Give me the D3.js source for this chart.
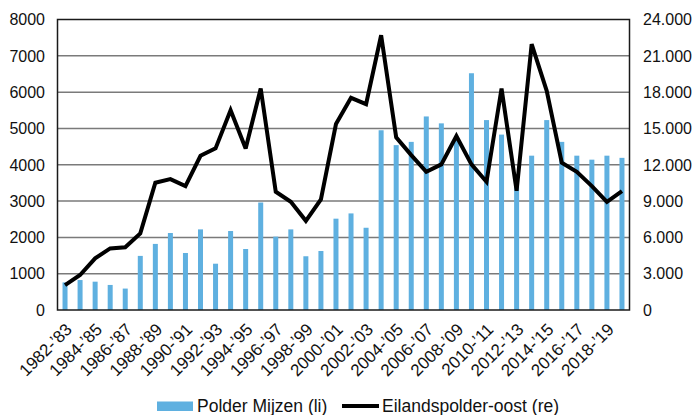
<!DOCTYPE html>
<html>
<head>
<meta charset="utf-8">
<script src="https://cdn.jsdelivr.net/npm/d3@7/dist/d3.min.js"></script>
<style>
  html, body { margin: 0; padding: 0; background: #fff; }
  svg { display: block; font-family: "Liberation Sans", Arial, Helvetica, sans-serif; }
</style>
</head>
<body>
<svg id="chart" width="698" height="415"></svg>
<script>
const categories = [
  "1982-’83","1983-’84","1984-’85","1985-’86","1986-’87","1987-’88","1988-’89","1989-’90",
  "1990-’91","1991-’92","1992-’93","1993-’94","1994-’95","1995-’96","1996-’97","1997-’98",
  "1998-’99","1999-’00","2000-’01","2001-’02","2002-’03","2003-’04","2004-’05","2005-’06",
  "2006-’07","2007-’08","2008-’09","2009-’10","2010-’11","2011-’12","2012-’13","2013-’14",
  "2014-’15","2015-’16","2016-’17","2017-’18","2018-’19","2019-’20"
];
const polderMijzen = [
  760, 825, 780, 690, 590, 1490, 1820, 2120, 1570, 2220, 1275, 2175, 1680,
  2960, 2020, 2220, 1480, 1625, 2515, 2660, 2265, 4950, 4540, 4630, 5330,
  5140, 4700, 6520, 5230, 4830, 3400, 4250, 5230, 4630, 4250, 4140, 4250, 4190
];
const eilandspolderOost = [
  2060, 2890, 4270, 5090, 5180, 6330, 10510, 10810, 10240, 12740, 13350, 16510, 13350,
  18300, 9770, 8940, 7370, 9140, 15360, 17530, 17010, 22700, 14260, 12800, 11420,
  12030, 14370, 12030, 10590, 18300, 9850, 21960, 18110, 12170, 11420, 10240, 8940, 9820
];
const leftTicks = [0, 1000, 2000, 3000, 4000, 5000, 6000, 7000, 8000];
const rightTicks = [0, 3000, 6000, 9000, 12000, 15000, 18000, 21000, 24000];
const rightTickLabels = ["0", "3.000", "6.000", "9.000", "12.000", "15.000", "18.000", "21.000", "24.000"];
const shownLabels = categories.filter((d, i) => i % 2 === 0);
const seriesNames = ["Polder Mijzen (li)", "Eilandspolder-oost (re)"];

const svg = d3.select("#chart");
const m = { left: 57.5, right: 629.5, top: 19.5, bottom: 310 };

const x = d3.scaleBand().domain(categories).range([m.left, m.right]).paddingInner(0).paddingOuter(0);
const yL = d3.scaleLinear().domain([0, 8000]).range([m.bottom, m.top]);
const yR = d3.scaleLinear().domain([0, 24000]).range([m.bottom, m.top]);

// gridlines
svg.append("g").selectAll("line").data(leftTicks.filter(d => d > 0 && d < 8000)).join("line")
  .attr("x1", m.left).attr("x2", m.right)
  .attr("y1", d => yL(d)).attr("y2", d => yL(d))
  .attr("stroke", "#7a7a7a").attr("stroke-width", 1.5);

// bars
const bw = 5;
svg.append("g").selectAll("rect").data(polderMijzen).join("rect")
  .attr("x", (d, i) => x(categories[i]) + x.bandwidth() / 2 - bw / 2)
  .attr("width", bw)
  .attr("y", d => yL(d))
  .attr("height", d => yL(0) - yL(d))
  .attr("fill", "#5fb0e0");

// frame
svg.append("rect")
  .attr("x", m.left).attr("y", m.top)
  .attr("width", m.right - m.left).attr("height", m.bottom - m.top)
  .attr("fill", "none").attr("stroke", "#1a1a1a").attr("stroke-width", 1.5);

// line
const line = d3.line()
  .x((d, i) => x(categories[i]) + x.bandwidth() / 2)
  .y(d => yR(d));
svg.append("path").datum(eilandspolderOost)
  .attr("d", line)
  .attr("fill", "none").attr("stroke", "#000").attr("stroke-width", 4)
  .attr("stroke-linejoin", "miter").attr("stroke-miterlimit", 3);

// left axis labels
svg.append("g").selectAll("text").data(leftTicks).join("text")
  .attr("x", 45).attr("y", d => yL(d)).attr("dy", "0.36em")
  .attr("text-anchor", "end").attr("font-size", 16).attr("fill", "#111")
  .text(d => d);

// right axis labels
svg.append("g").selectAll("text").data(rightTicks).join("text")
  .attr("x", 643).attr("y", d => yR(d)).attr("dy", "0.36em")
  .attr("text-anchor", "start").attr("font-size", 16).attr("fill", "#111")
  .text((d, i) => rightTickLabels[i]);

// x labels
svg.append("g").selectAll("text").data(shownLabels).join("text")
  .attr("transform", d => `translate(${x(d) + x.bandwidth() / 2 + 8},${m.bottom + 20.5}) rotate(-45)`)
  .attr("text-anchor", "end").attr("font-size", 17).attr("fill", "#111")
  .text(d => d);

// legend
const lg = svg.append("g");
lg.append("rect").attr("x", 157).attr("y", 401.5).attr("width", 36).attr("height", 9.5).attr("fill", "#5fb0e0");
lg.append("text").attr("x", 197).attr("y", 412).attr("font-size", 17.5).attr("fill", "#111").text(seriesNames[0]);
lg.append("line").attr("x1", 342).attr("x2", 379).attr("y1", 406).attr("y2", 406)
  .attr("stroke", "#000").attr("stroke-width", 4);
lg.append("text").attr("x", 382).attr("y", 412).attr("font-size", 17.5).attr("fill", "#111").text(seriesNames[1]);
</script>
</body>
</html>
